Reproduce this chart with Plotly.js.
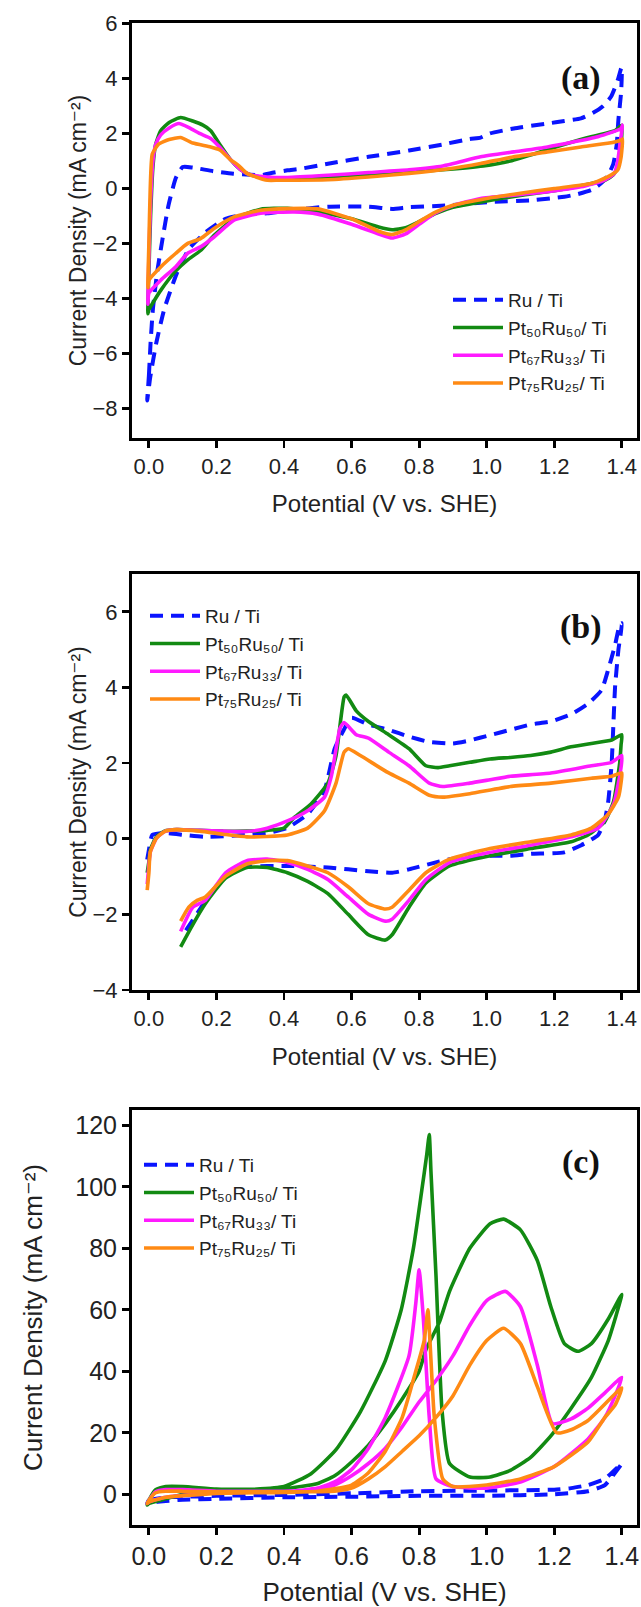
<!DOCTYPE html>
<html><head><meta charset="utf-8">
<script src="https://cdn.plot.ly/plotly-3.0.1.min.js"></script>
<style>html,body{margin:0;padding:0;background:#fff}</style>
</head><body><div id="chart" style="width:641px;height:1607px"></div>
<script>
// ---------- series names ----------
const names = ["Ru / Ti", "Pt\u2085\u2080Ru\u2085\u2080/ Ti", "Pt\u2086\u2087Ru\u2083\u2083/ Ti", "Pt\u2087\u2085Ru\u2082\u2085/ Ti"];
const colors = ["#0a14ff", "#128a12", "#ff1aff", "#ff8a14"];
const panelLabels = ["(a)", "(b)", "(c)"];
const xTitle = "Potential (V vs. SHE)";
const yTitle = "Current Density (mA cm\u207B\u00B2)";

// ---------- panel (a) ----------
const aRuX = [-0.005,0.0,0.005,0.012,0.025,0.04,0.058,0.08,0.1,0.13,0.19,0.25,0.3,0.33,0.37,0.41,0.45,0.53,0.65,0.77,0.87,0.95,0.982,1.01,1.08,1.18,1.23,1.279,1.315,1.345,1.368,1.388,1.398,1.4,
  1.398,1.39,1.385,1.375,1.36,1.348,1.33,1.309,1.27,1.23,1.131,1.012,0.89,0.77,0.72,0.65,0.53,0.41,0.35,0.29,0.227,0.167,0.118,0.082,0.046,0.022,0.004,-0.005];
const aRuY = [-7.7,-6.8,-5.6,-4.36,-3.0,-1.86,-0.61,0.39,0.78,0.76,0.63,0.54,0.5,0.48,0.58,0.66,0.72,0.9,1.15,1.38,1.6,1.8,1.85,2.0,2.18,2.36,2.45,2.55,2.75,3.0,3.33,3.94,4.36,4.4,
  3.5,2.5,1.6,0.9,0.5,0.3,0.1,-0.06,-0.2,-0.3,-0.43,-0.49,-0.61,-0.68,-0.74,-0.66,-0.66,-0.8,-0.9,-0.93,-1.1,-1.6,-2.2,-3.1,-4.36,-5.6,-6.85,-7.7];
const aP50X = [-0.003,0.0,0.005,0.012,0.02,0.035,0.06,0.094,0.13,0.16,0.183,0.21,0.243,0.27,0.3,0.35,0.41,0.53,0.65,0.77,0.87,0.99,1.07,1.19,1.3,1.38,1.4,
  1.398,1.39,1.375,1.35,1.3,1.2,1.1,1.0,0.9,0.85,0.8,0.76,0.72,0.68,0.6,0.5,0.41,0.331,0.252,0.193,0.153,0.114,0.079,0.035,0.0,-0.003];
const aP50Y = [-4.55,-3.0,-1.0,0.8,1.6,2.1,2.4,2.58,2.45,2.3,2.1,1.6,1.03,0.7,0.5,0.4,0.38,0.42,0.5,0.6,0.68,0.82,1.0,1.45,1.85,2.1,2.3,
  1.6,0.8,0.5,0.3,0.15,-0.08,-0.25,-0.45,-0.68,-0.9,-1.2,-1.42,-1.5,-1.4,-1.1,-0.85,-0.72,-0.75,-1.1,-1.7,-2.25,-2.6,-3.0,-3.7,-4.4,-4.55];
const aP67X = [-0.003,0.0,0.005,0.012,0.02,0.035,0.06,0.089,0.12,0.15,0.183,0.21,0.243,0.27,0.3,0.35,0.41,0.53,0.65,0.77,0.87,0.982,1.08,1.18,1.329,1.398,1.402,
  1.395,1.388,1.378,1.348,1.279,1.18,1.08,0.982,0.9,0.85,0.8,0.76,0.72,0.68,0.6,0.5,0.43,0.331,0.252,0.193,0.153,0.114,0.079,0.035,0.0,-0.003];
const aP67Y = [-4.2,-2.5,-0.5,1.0,1.6,1.95,2.2,2.36,2.2,2.0,1.82,1.5,1.03,0.7,0.5,0.42,0.4,0.48,0.58,0.68,0.82,1.15,1.33,1.51,1.88,2.18,2.3,
  1.66,1.0,0.55,0.3,0.06,-0.12,-0.24,-0.36,-0.62,-0.88,-1.3,-1.65,-1.8,-1.65,-1.3,-0.93,-0.85,-0.9,-1.15,-1.76,-2.12,-2.36,-2.85,-3.33,-3.8,-4.2];
const aP75X = [-0.003,0.0,0.004,0.01,0.028,0.06,0.094,0.13,0.183,0.21,0.243,0.264,0.29,0.31,0.351,0.385,0.53,0.65,0.77,0.89,0.982,1.08,1.18,1.279,1.358,1.398,1.402,
  1.398,1.388,1.358,1.309,1.2,1.1,1.0,0.9,0.85,0.8,0.76,0.72,0.68,0.6,0.5,0.41,0.331,0.252,0.193,0.153,0.114,0.079,0.035,0.0,-0.003];
const aP75Y = [-3.6,-2.0,0.0,1.25,1.6,1.78,1.85,1.65,1.51,1.4,1.03,0.85,0.55,0.45,0.3,0.3,0.32,0.42,0.55,0.72,0.91,1.15,1.33,1.51,1.64,1.76,1.8,
  1.15,0.67,0.42,0.18,0.0,-0.17,-0.36,-0.61,-0.85,-1.2,-1.5,-1.67,-1.55,-1.1,-0.74,-0.73,-0.79,-1.03,-1.45,-1.82,-2.0,-2.36,-2.85,-3.33,-3.6];

// ---------- panel (b) ----------
const bRuX = [-0.005,0.0,0.01,0.046,0.106,0.167,0.29,0.35,0.41,0.47,0.52,0.55,0.58,0.60,0.65,0.71,0.77,0.83,0.90,0.95,1.01,1.07,1.13,1.19,1.25,1.30,1.34,1.36,1.38,1.394,1.4,
  1.39,1.38,1.375,1.37,1.36,1.35,1.33,1.28,1.23,1.13,1.07,1.01,0.89,0.83,0.77,0.72,0.65,0.59,0.53,0.41,0.29,0.25,0.227,0.2,0.167,0.13,0.1];
const bRuY = [-0.55,-0.3,0.1,0.15,0.1,0.05,0.1,0.15,0.29,0.65,1.29,2.38,2.93,3.2,3.02,2.88,2.7,2.56,2.52,2.6,2.74,2.88,3.02,3.1,3.29,3.57,3.93,4.48,5.12,5.66,5.7,
  5.0,4.0,3.0,2.0,1.0,0.5,0.1,-0.17,-0.36,-0.4,-0.45,-0.45,-0.54,-0.67,-0.81,-0.9,-0.86,-0.81,-0.76,-0.72,-0.74,-0.82,-0.97,-1.25,-1.65,-2.15,-2.55];
const bP50X = [-0.005,0.0,0.004,0.022,0.046,0.082,0.15,0.22,0.29,0.35,0.4,0.43,0.48,0.53,0.554,0.578,0.584,0.614,0.65,0.71,0.77,0.82,0.856,0.89,0.95,1.01,1.07,1.13,1.19,1.25,1.31,1.37,1.4,
  1.398,1.394,1.376,1.35,1.3,1.25,1.13,1.01,0.89,0.82,0.77,0.72,0.70,0.65,0.59,0.53,0.47,0.41,0.35,0.29,0.227,0.167,0.13,0.094];
const bP50Y = [-0.9,-0.6,-0.3,0.05,0.2,0.24,0.22,0.2,0.2,0.22,0.28,0.56,0.92,1.47,2.2,3.75,3.8,3.38,3.1,2.75,2.38,1.93,1.88,1.93,2.02,2.11,2.15,2.2,2.29,2.43,2.52,2.61,2.75,
  2.5,2.02,1.0,0.46,0.1,-0.08,-0.26,-0.45,-0.72,-1.17,-1.81,-2.54,-2.68,-2.54,-2.0,-1.45,-1.13,-0.9,-0.76,-0.76,-1.04,-1.72,-2.27,-2.86];
const bP67X = [-0.005,0.0,0.004,0.022,0.046,0.082,0.15,0.22,0.29,0.35,0.41,0.47,0.52,0.54,0.566,0.578,0.614,0.65,0.71,0.77,0.83,0.87,0.95,1.01,1.07,1.19,1.31,1.37,1.4,
  1.398,1.376,1.33,1.25,1.13,1.01,0.89,0.82,0.77,0.72,0.70,0.65,0.59,0.53,0.47,0.41,0.35,0.29,0.227,0.167,0.13,0.094];
const bP67Y = [-1.2,-0.7,-0.36,0.01,0.19,0.24,0.22,0.2,0.19,0.28,0.47,0.74,1.1,1.65,2.93,3.07,2.75,2.66,2.29,1.93,1.47,1.38,1.47,1.56,1.65,1.74,1.93,2.02,2.2,
  1.9,0.92,0.28,0.05,-0.17,-0.36,-0.63,-1.08,-1.63,-2.13,-2.18,-2.0,-1.54,-1.08,-0.81,-0.63,-0.54,-0.58,-0.9,-1.63,-1.81,-2.45];
const bP75X = [-0.005,0.0,0.004,0.022,0.046,0.082,0.15,0.22,0.29,0.35,0.41,0.47,0.52,0.554,0.578,0.59,0.626,0.71,0.77,0.83,0.87,0.95,1.07,1.19,1.31,1.37,1.4,
  1.398,1.39,1.36,1.31,1.25,1.13,1.01,0.89,0.82,0.77,0.72,0.70,0.65,0.59,0.53,0.47,0.41,0.35,0.29,0.227,0.167,0.143,0.118,0.094];
const bP75Y = [-1.36,-0.9,-0.36,0.01,0.19,0.24,0.2,0.12,0.05,0.06,0.1,0.28,0.74,1.47,2.29,2.38,2.2,1.74,1.47,1.15,1.1,1.19,1.38,1.47,1.6,1.65,1.74,
  1.5,1.1,0.65,0.28,0.1,-0.08,-0.26,-0.54,-0.9,-1.36,-1.81,-1.86,-1.72,-1.27,-0.9,-0.72,-0.58,-0.58,-0.67,-0.99,-1.54,-1.63,-1.81,-2.18];

// ---------- panel (c) ----------
const cRuX = [-0.005,0.0,0.05,0.1,0.2,0.4,0.6,0.8,1.0,1.2,1.25,1.3,1.35,1.38,1.4,
  1.38,1.35,1.3,1.2,1.0,0.8,0.6,0.4,0.2,0.1,0.05,0.0,-0.005];
const cRuY = [-3.0,-2.0,-1.0,-0.8,-0.5,-0.2,0.3,1.0,1.2,1.5,2.0,3.0,5.0,8.0,10.0,
  7.0,3.0,1.0,0.0,-0.5,-0.5,-0.8,-1.0,-1.5,-1.8,-2.2,-2.8,-3.0];
const cP50X = [-0.005,0.0,0.02,0.05,0.1,0.2,0.3,0.4,0.45,0.5,0.55,0.6,0.65,0.7,0.75,0.8,0.82,0.86,0.89,0.95,1.01,1.05,1.1,1.15,1.19,1.23,1.27,1.31,1.36,1.4,
  1.38,1.36,1.31,1.25,1.19,1.13,1.07,1.01,0.95,0.89,0.868,0.85,0.835,0.83,0.822,0.808,0.783,0.747,0.70,0.626,0.554,0.48,0.4,0.3,0.2,0.1,0.05,0.0,-0.005];
const cP50Y = [-3.5,-2.0,1.5,2.5,2.5,1.7,1.6,1.8,2.5,3.5,6.0,10.5,16.0,23.0,31.0,40.0,47.0,56.0,66.0,80.0,88.0,89.5,86.0,76.0,61.0,49.0,46.5,49.0,57.0,65.0,
  57.0,50.0,38.0,28.0,19.0,12.0,7.8,5.6,5.6,10.0,27.0,71.0,105.0,117.0,110.0,99.0,80.0,60.0,43.5,26.8,14.5,6.7,2.5,1.5,1.0,0.0,-1.5,-3.0,-3.5];
const cP67X = [-0.005,0.0,0.02,0.05,0.1,0.2,0.4,0.5,0.55,0.6,0.65,0.7,0.75,0.8,0.85,0.9,0.95,1.0,1.055,1.1,1.15,1.195,1.25,1.3,1.35,1.4,
  1.38,1.35,1.3,1.2,1.1,1.0,0.9,0.85,0.83,0.812,0.80,0.79,0.77,0.7,0.65,0.6,0.55,0.5,0.4,0.2,0.05,0.0,-0.005];
const cP67Y = [-3.0,-2.0,0.8,1.5,1.5,1.0,1.0,1.5,3.0,6.0,10.0,15.0,22.0,30.0,37.0,45.0,55.0,63.0,66.0,61.0,42.0,23.0,24.5,28.0,33.0,38.0,
  32.0,25.0,18.0,9.0,4.0,2.0,2.5,5.0,25.0,58.0,73.0,62.0,45.0,25.0,15.0,8.0,4.0,2.0,0.8,0.5,-1.0,-2.5,-3.0];
const cP75X = [-0.005,0.0,0.02,0.05,0.1,0.2,0.4,0.55,0.6,0.65,0.7,0.75,0.8,0.85,0.9,0.95,1.0,1.05,1.1,1.15,1.207,1.25,1.3,1.4,
  1.38,1.35,1.3,1.2,1.1,1.0,0.9,0.87,0.845,0.832,0.826,0.815,0.79,0.75,0.7,0.65,0.6,0.5,0.4,0.2,0.05,0.0,-0.005];
const cP75Y = [-3.0,-2.0,0.5,1.0,1.0,0.8,0.8,1.0,2.0,5.0,9.0,14.0,19.0,25.0,32.0,42.0,50.0,54.0,49.0,35.0,20.0,21.0,24.0,34.6,
  29.0,25.0,17.0,9.0,5.0,3.0,2.5,5.0,25.0,50.0,60.0,50.0,40.0,25.0,14.0,7.0,3.0,1.0,0.6,0.3,-1.0,-2.5,-3.0];

// ---------- axis settings ----------
const xRange = [-0.05, 1.445];
const yRanges = [[-9.05, 6], [-4, 7], [-10, 125]];
const yMajor = [2, 2, 20];
const yMinor = [1, 1, 10];

// ---------- build ----------
const panels = [
  {xs:[aRuX,aP50X,aP67X,aP75X], ys:[aRuY,aP50Y,aP67Y,aP75Y]},
  {xs:[bRuX,bP50X,bP67X,bP75X], ys:[bRuY,bP50Y,bP67Y,bP75Y]},
  {xs:[cRuX,cP50X,cP67X,cP75X], ys:[cRuY,cP50Y,cP67Y,cP75Y]}
];
const H = 1607, T = 23, B = 82, L = 132, R = 4;
const ph = H - T - B;
function dom(top, bot){ return [(H - B - bot)/ph, (H - B - top)/ph]; }
const pw = 641 - L - R;
function px(xp){ return (xp - L)/pw; }
function py(yp){ return (H - B - yp)/ph; }
const doms = [dom(23.3,437.7), dom(574,990), dom(1110,1525)];

const data = [];
panels.forEach((p, k) => {
  const sx = k === 0 ? '' : String(k+1);
  for (let i = 0; i < 4; i++) {
    data.push({
      type:'scatter', mode:'lines',
      x:p.xs[i], y:p.ys[i],
      xaxis:'x'+sx, yaxis:'y'+sx,
      name:names[i], legend: k===0 ? 'legend' : 'legend'+(k+1),
      legendgroup:'g'+k+'_'+i,
      line:{color:colors[i], width: i===0 ? 4 : 3.6, dash: i===0 ? '13px,8px' : 'solid', shape:'spline', smoothing:0.5},
      hoverinfo:'skip'
    });
  }
});

const font = "Liberation Sans, Arial, DejaVu Sans, sans-serif";
const serif = "Liberation Serif, Times New Roman, serif";
function xax(k){
  const big = k === 2;
  return {anchor: k===0?'y':'y'+(k+1), domain:[0,1], range:xRange, dtick:0.2, tick0:0, tickformat:'.1f',
    showline:true, mirror:true, linewidth:3, linecolor:'#000', ticks:'outside', ticklen:7, tickwidth:2.8, tickcolor:'#000',
    showgrid:false, zeroline:false, tickfont:{family:font, size: big?25:22, color:'#222'},
    title:{text:xTitle, font:{family:font, size: big?26:24, color:'#222'}, standoff: big?22:18}};
}
function yax(k){
  const big = k === 2;
  return {anchor: k===0?'x':'x'+(k+1), domain:doms[k], range:yRanges[k], dtick:yMajor[k], tick0:0,
    showline:true, mirror:true, linewidth:3, linecolor:'#000', ticks:'outside', ticklen:7, tickwidth:2.8, tickcolor:'#000',
    showgrid:false, zeroline:false, tickfont:{family:font, size: big?25:22, color:'#222'},
    title:{text:yTitle, font:{family:font, size: big?26:23, color:'#222'}, standoff: big?26:0}};
}
// overlay axes that carry only the short minor ticks (no labels)
function xminor(k){
  return {overlaying: k===0?'x':'x'+(k+1), anchor: k===0?'y':'y'+(k+1), side:'bottom', range:xRange, dtick:0.1, tick0:0,
    ticks:'outside', ticklen:4, tickwidth:2.5, tickcolor:'#000', showticklabels:false, showline:false, showgrid:false, zeroline:false};
}
function yminor(k){
  return {overlaying: k===0?'y':'y'+(k+1), anchor: k===0?'x':'x'+(k+1), side:'left', range:yRanges[k], dtick:yMinor[k], tick0:0,
    ticks:'outside', ticklen:4, tickwidth:2.5, tickcolor:'#000', showticklabels:false, showline:false, showgrid:false, zeroline:false};
}
function leg(xp, yp){
  return {x:px(xp), y:py(yp), xanchor:'left', yanchor:'top', bgcolor:'rgba(0,0,0,0)', borderwidth:0,
    font:{family:font, size:19, color:'#222'}, itemwidth:50, tracegroupgap:4, traceorder:'normal'};
}
const labFont = {family:serif, size:34, color:'#111'};
const layout = {
  width:641, height:1607, paper_bgcolor:'#fff', plot_bgcolor:'#fff',
  margin:{l:L, r:R, t:T, b:B}, showlegend:true,
  xaxis: xax(0), yaxis: yax(0),
  xaxis2: xax(1), yaxis2: yax(1),
  xaxis3: xax(2), yaxis3: yax(2),
  xaxis4: xminor(0), yaxis4: yminor(0),
  xaxis5: xminor(1), yaxis5: yminor(1),
  xaxis6: xminor(2), yaxis6: yminor(2),
  legend: leg(448, 281), legend2: leg(145, 597), legend3: leg(139, 1146),
  annotations: [
    {xref:'x', yref:'y', x:1.28, y:4.0, text:'<b>'+panelLabels[0]+'</b>', showarrow:false, font:labFont},
    {xref:'x2', yref:'y2', x:1.28, y:5.6, text:'<b>'+panelLabels[1]+'</b>', showarrow:false, font:labFont},
    {xref:'x3', yref:'y3', x:1.28, y:108, text:'<b>'+panelLabels[2]+'</b>', showarrow:false, font:labFont}
  ]
};
Plotly.newPlot('chart', data, layout, {staticPlot:true, displayModeBar:false});
</script></body></html>
